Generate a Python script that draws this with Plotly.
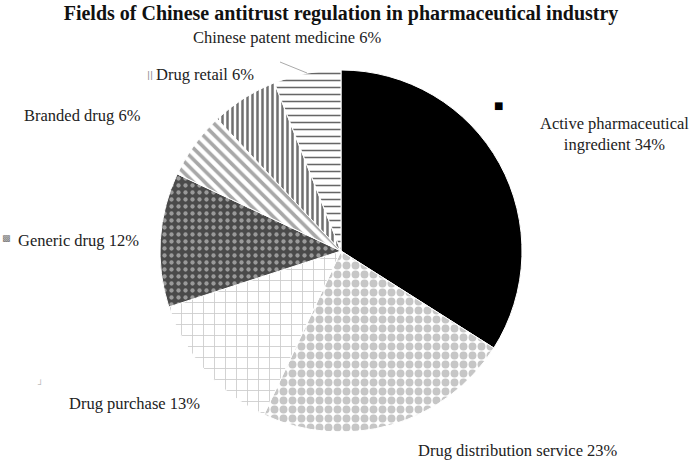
import plotly.graph_objects as go

labels = ["Active pharmaceutical ingredient", "Drug distribution service", "Drug purchase",
          "Generic drug", "Branded drug", "Drug retail", "Chinese patent medicine"]
values = [34, 23, 13, 12, 6, 6, 6]

shapes_pat = ["", ".", "+", ".", "\\", "|", "-"]
fg = ["#000000", "#c6c6c6", "#cccccc", "#9a9a9a", "#a8a8a8", "#707070", "#666666"]
bg = ["#000000", "#ffffff", "#ffffff", "#4a4a4a", "#ffffff", "#ffffff", "#ffffff"]
psize = [8, 9, 11, 7, 8, 5, 7]
psolid = [0.3, 0.6, 0.15, 0.3, 0.45, 0.5, 0.22]

W, H = 693, 463

fig = go.Figure(go.Pie(
    labels=labels, values=values, sort=False, direction="clockwise", rotation=0,
    textinfo="none", hoverinfo="label+percent",
    marker=dict(colors=bg, line=dict(color="white", width=1),
                pattern=dict(shape=shapes_pat, fgcolor=fg, bgcolor=bg,
                             size=psize, solidity=psolid, fillmode="replace")),
    domain=dict(x=[160 / W, 522 / W], y=[(H - 432) / H, (H - 70) / H]),
    showlegend=False,
))

# label placement (pixel centres)
label_pos = [(614, 134), (518, 450), (134, 403), (78, 240), (82, 115), (205, 75), (287, 37)]
annotations = []
for lab, val, (px, py) in zip(labels, values, label_pos):
    txt = f"{lab} {val}%"
    if lab.startswith("Active"):
        txt = f"Active pharmaceutical<br>ingredient {val}%"
    annotations.append(dict(x=px / W, y=1 - py / H, xref="paper", yref="paper",
                            text=txt, showarrow=False, xanchor="center", yanchor="middle",
                            font=dict(family="Liberation Serif", size=16.5, color="#222222")))

# small key marks
marks = [("■", 498, 105, "#000000", 10), ("▩", 6, 238, "#777777", 9),
         ("||", 150, 75, "#888888", 9), ("┘", 40, 384, "#bbbbbb", 9)]
for ch, px, py, col, sz in marks:
    annotations.append(dict(x=px / W, y=1 - py / H, xref="paper", yref="paper",
                            text=ch, showarrow=False, xanchor="center", yanchor="middle",
                            font=dict(family="DejaVu Sans", size=sz, color=col)))

fig.update_layout(
    width=W, height=H, margin=dict(l=0, r=0, t=0, b=0),
    paper_bgcolor="white", plot_bgcolor="white",
    title=dict(text="<b>Fields of Chinese antitrust regulation in pharmaceutical industry</b>",
               x=341 / W, xanchor="center", y=1 - 13 / H, yanchor="middle",
               font=dict(family="Liberation Serif", size=20, color="#111111")),
    annotations=annotations,
    shapes=[dict(type="line", xref="paper", yref="paper",
                 x0=280 / W, y0=1 - 62 / H, x1=307 / W, y1=1 - 73 / H,
                 line=dict(color="#aaaaaa", width=1))],
)

fig.write_html("out.html")
